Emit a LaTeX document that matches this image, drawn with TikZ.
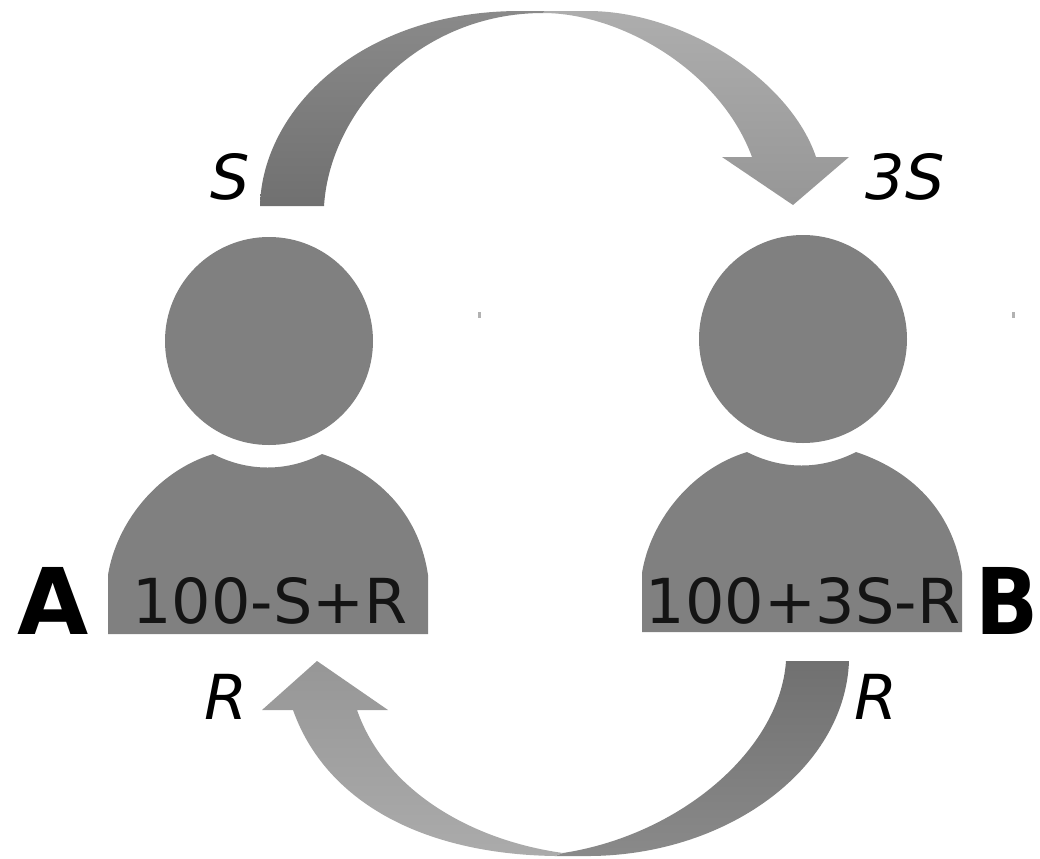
\documentclass[tikz,border=0pt]{standalone}
\usepackage{fontspec}
\setmainfont{DejaVu Sans}
\begin{document}
\begin{tikzpicture}[x=0.75pt,y=-0.75pt,
  person/.style={fill=black!50,draw=none},
  darkarrow/.style={top color=black!56,bottom color=black!46,draw=none},
  darkarrowup/.style={top color=black!46,bottom color=black!56,draw=none},
  lightarrow/.style={top color=black!32,bottom color=black!41,draw=none},
  lightarrowup/.style={top color=black!41,bottom color=black!33,draw=none},
  value/.style={inner sep=0pt,font=\fontsize{46.5pt}{46.5pt}\selectfont,text=black!92,anchor=base},
  flow/.style={inner sep=0pt,font=\fontsize{46.5pt}{46.5pt}\selectfont\itshape,text=black,anchor=base},
  who/.style={inner sep=0pt,font=\fontsize{69pt}{69pt}\selectfont\bfseries,text=black,anchor=base}]
\useasboundingbox (0,0) rectangle (1040,858);
\begin{scope}
\clip (0,0) rectangle (1040,858);
% top arrow
\path[darkarrowup] (260,206) .. controls (262,110) and (360,11) .. (520,11)
  -- (545,11) -- (543,13) .. controls (420,13) and (330,110) .. (324,206) -- cycle;
\path[lightarrow] (545,11) -- (590,11) .. controls (685,12) and (790,80) .. (816,157)
  -- (849,157) -- (793,205) -- (722,157) -- (752,157)
  .. controls (720,70) and (620,13) .. (543,13) -- cycle;
% bottom arrow
\path[darkarrow] (786,661) -- (849,661) .. controls (845,770) and (725,857) .. (585,856)
  -- (555,856) -- (563,853) .. controls (680,835) and (780,750) .. (786,661) -- cycle;
\path[lightarrowup] (317,661) -- (388,710) -- (357,710)
  .. controls (385,790) and (470,840) .. (563,853) -- (555,856)
  .. controls (420,854) and (325,800) .. (293,710) -- (262,710) -- cycle;
\end{scope}
% person A
\node[person,circle,minimum size=156pt,inner sep=0pt] (headA) at (269,341) {};
\path[person] (108,634) coordinate (bodyA) -- (108,575)
  .. controls (116,525) and (155,472) .. (213,454)
  .. controls (248,472) and (287,472) .. (322,454)
  .. controls (385,475) and (420,520) .. (428,575) -- (428,634) -- cycle;
% person B
\node[person,circle,minimum size=156pt,inner sep=0pt] (headB) at (803,339) {};
\path[person] (642,632) coordinate (bodyB) -- (642,573)
  .. controls (650,523) and (689,470) .. (747,452)
  .. controls (782,470) and (821,470) .. (856,452)
  .. controls (919,473) and (954,518) .. (962,573) -- (962,632) -- cycle;
% specks
\path[fill=black!30] (478,312) rectangle (481,318);
\path[fill=black!30] (1012,312) rectangle (1015,318);
% labels
\node[value] (valA) at (270,623) {100-S+R};
\node[value] (valB) at (803,623) {100+3S-R};
\node[who] (nameA) at (53,634) {A};
\node[who] (nameB) at (1007,634) {\scalebox{0.9}[1]{B}};
\node[flow] (flowS) at (230,199) {S};
\node[flow] (flowT) at (905,199) {3S};
\node[flow] (flowRA) at (226,719) {R};
\node[flow] (flowRB) at (876,719) {R};
\end{tikzpicture}
\end{document}
